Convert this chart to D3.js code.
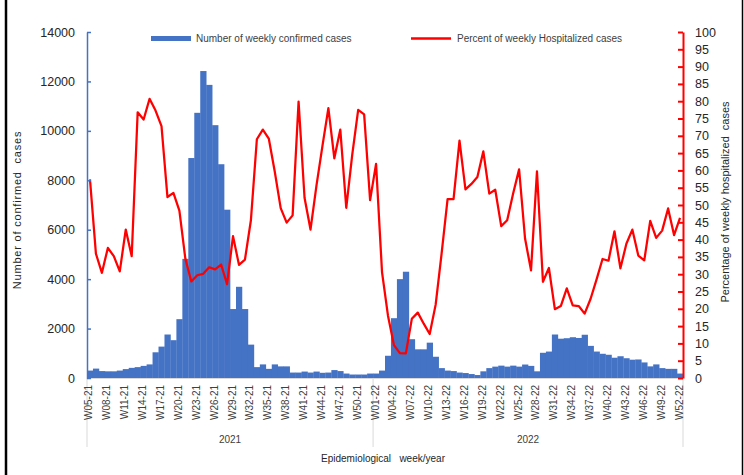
<!DOCTYPE html>
<html><head><meta charset="utf-8">
<script src="https://cdn.jsdelivr.net/npm/d3@7"></script>
<style>
body{margin:0;background:#fff}
text{font-family:"Liberation Sans",Arial,sans-serif}
</style>
</head><body>
<svg id="c" width="744" height="475"></svg>
<script>
const weeks = [
"W05-21","W06-21","W07-21","W08-21","W09-21","W10-21","W11-21","W12-21","W13-21","W14-21",
"W15-21","W16-21","W17-21","W18-21","W19-21","W20-21","W21-21","W22-21","W23-21","W24-21",
"W25-21","W26-21","W27-21","W28-21","W29-21","W30-21","W31-21","W32-21","W33-21","W34-21",
"W35-21","W36-21","W37-21","W38-21","W39-21","W40-21","W41-21","W42-21","W43-21","W44-21",
"W45-21","W46-21","W47-21","W48-21","W49-21","W50-21","W51-21","W52-21",
"W01-22","W02-22","W03-22","W04-22","W05-22","W06-22","W07-22","W08-22","W09-22","W10-22",
"W11-22","W12-22","W13-22","W14-22","W15-22","W16-22","W17-22","W18-22","W19-22","W20-22",
"W21-22","W22-22","W23-22","W24-22","W25-22","W26-22","W27-22","W28-22","W29-22","W30-22",
"W31-22","W32-22","W33-22","W34-22","W35-22","W36-22","W37-22","W38-22","W39-22","W40-22",
"W41-22","W42-22","W43-22","W44-22","W45-22","W46-22","W47-22","W48-22","W49-22","W50-22",
"W51-22","W52-22"];

const cases = [
300,380,280,270,270,300,360,410,440,490,
550,1040,1270,1760,1530,2380,4820,8900,10730,12420,
11860,10230,8650,6810,2790,3690,2790,1350,440,550,
370,550,470,470,220,220,260,220,260,210,
220,320,280,180,140,140,140,180,
180,300,900,2420,4000,4300,1570,1160,1160,1430,
860,400,300,280,220,200,160,120,270,400,
460,500,460,500,460,545,490,270,1020,1070,
1760,1590,1610,1650,1620,1750,1300,1070,980,940,
820,880,800,740,750,630,470,550,400,370,
370,180];

const hospPct = [
57.4,35.9,30.4,37.6,35.2,30.8,42.9,35.2,76.8,74.7,
80.7,77.3,72.8,52.3,53.5,48.4,34.5,27.9,29.7,30.1,
32.0,31.4,32.8,27.1,41.0,32.7,34.2,45.6,69.0,71.8,
69.2,59.7,49.1,44.9,47.0,79.9,52.1,42.9,55.6,67.0,
78.0,63.5,71.8,49.2,64.5,77.5,76.2,51.4,
61.9,30.6,18.0,9.5,7.2,7.1,17.1,18.9,15.7,12.7,
21.2,36.0,51.7,51.7,68.6,54.5,56.1,58.1,65.5,53.3,
54.4,43.9,45.6,53.3,60.3,40.3,31.1,59.7,27.8,31.8,
19.9,20.8,25.9,21.0,20.8,18.6,22.9,28.5,34.4,33.9,
42.4,31.7,38.8,42.9,35.4,34.0,45.4,40.5,42.6,49.0,
41.3,46.3];

const tickWeeks = ["W05-21","W08-21","W11-21","W14-21","W17-21","W20-21","W23-21","W26-21",
"W29-21","W32-21","W35-21","W38-21","W41-21","W44-21","W47-21","W50-21",
"W01-22","W04-22","W07-22","W10-22","W13-22","W16-22","W19-22","W22-22","W25-22",
"W28-22","W31-22","W34-22","W37-22","W40-22","W43-22","W46-22","W49-22","W52-22"];

const leftTicks = [0,2000,4000,6000,8000,10000,12000,14000];
const rightTicks = [0,5,10,15,20,25,30,35,40,45,50,55,60,65,70,75,80,85,90,95,100];
const years = ["2021","2022"];
const yearStart = ["W05-21","W01-22"];
const yearEnd = ["W52-21","W52-22"];

const svg = d3.select("#c");
const L = 87, R = 683, T = 32, B = 378;
const blue = "#4472C4", red = "#FF0000";

const x = d3.scaleBand().domain(weeks).range([L, R]).padding(0);
const yL = d3.scaleLinear().domain([0, 14000]).range([B, T]);
const yR = d3.scaleLinear().domain([0, 100]).range([B, T]);

// frame lines
svg.append("line").attr("x1",6).attr("x2",6).attr("y1",0).attr("y2",475).attr("stroke","#000").attr("stroke-width",2.5);
svg.append("line").attr("x1",742.5).attr("x2",742.5).attr("y1",0).attr("y2",475).attr("stroke","#000").attr("stroke-width",1.5);

// bars
svg.append("g").selectAll("rect").data(weeks).join("rect")
  .attr("x", d => x(d))
  .attr("width", x.bandwidth() + 0.3)
  .attr("y", (d,i) => yL(cases[i]))
  .attr("height", (d,i) => B - yL(cases[i]))
  .attr("fill", blue);

// base line and group separators
svg.append("line").attr("x1",L).attr("x2",R).attr("y1",B+0.5).attr("y2",B+0.5).attr("stroke","#D9D9D9").attr("stroke-width",1);
const seps = [x(yearStart[0]), x(yearStart[1]), x(yearEnd[1]) + x.bandwidth()];
svg.append("g").selectAll("line").data(seps).join("line")
  .attr("x1", d => d).attr("x2", d => d).attr("y1", B).attr("y2", 447)
  .attr("stroke","#D9D9D9").attr("stroke-width",1);

// line
const line = d3.line().x((d,i) => x(weeks[i]) + x.bandwidth()/2).y(d => yR(d));
svg.append("path").datum(hospPct).attr("d", line).attr("fill","none")
  .attr("stroke", red).attr("stroke-width", 2.25).attr("stroke-linejoin","round");

// left axis
const gL = svg.append("g").attr("transform", `translate(${L},0)`)
  .call(d3.axisLeft(yL).tickValues(leftTicks).tickSize(-4).tickSizeOuter(0).tickPadding(12).tickFormat(d3.format("d")));
gL.select(".domain").attr("stroke", blue).attr("stroke-width", 1.5);
gL.selectAll(".tick line").attr("stroke", blue).attr("stroke-width", 1.5);
gL.selectAll(".tick text").attr("font-size", 12.5).attr("fill", "#262626").attr("font-family","Liberation Sans, Arial");

// right axis
const gR = svg.append("g").attr("transform", `translate(${R},0)`)
  .call(d3.axisRight(yR).tickValues(rightTicks).tickSize(-5).tickSizeOuter(0).tickPadding(12));
gR.select(".domain").attr("stroke", red).attr("stroke-width", 2);
gR.selectAll(".tick line").attr("stroke", red).attr("stroke-width", 2);
gR.selectAll(".tick text").attr("font-size", 12.5).attr("fill", "#262626").attr("font-family","Liberation Sans, Arial");

// x tick labels
svg.append("g").selectAll("text").data(tickWeeks).join("text")
  .attr("transform", d => `translate(${x(d) + x.bandwidth()/2 - 1},385) rotate(-90)`)
  .attr("text-anchor","end").attr("dy","0.35em")
  .attr("font-size", 10).attr("fill","#404040")
  .text(d => d);

// year labels
svg.append("g").selectAll("text").data(years).join("text")
  .attr("x", (d,i) => (x(yearStart[i]) + x(yearEnd[i]) + x.bandwidth())/2)
  .attr("y", 443).attr("text-anchor","middle")
  .attr("font-size", 10).attr("fill","#404040").text(d => d);

// axis titles
svg.append("text").attr("x", 383).attr("y", 462).attr("text-anchor","middle")
  .attr("font-size", 10).attr("fill","#262626").style("white-space","pre")
  .text("Epidemiological   week/year");
svg.append("text").attr("transform","translate(21,210) rotate(-90)").attr("text-anchor","middle")
  .attr("font-size", 11).attr("letter-spacing", 0.8).attr("fill","#262626").style("white-space","pre")
  .text("Number of confirmed  cases");
svg.append("text").attr("transform","translate(729,202) rotate(-90)").attr("text-anchor","middle")
  .attr("font-size", 11).attr("fill","#262626").style("white-space","pre")
  .text("Percentage of weekly hospitalized  cases");

// legend
svg.append("rect").attr("x",151).attr("y",36).attr("width",40).attr("height",5).attr("fill",blue);
svg.append("text").attr("x",196).attr("y",42).attr("font-size",10).attr("fill","#404040").text("Number of weekly confirmed cases");
svg.append("line").attr("x1",411).attr("x2",451).attr("y1",38.5).attr("y2",38.5).attr("stroke",red).attr("stroke-width",2.5);
svg.append("text").attr("x",457).attr("y",42).attr("font-size",10).attr("fill","#404040").text("Percent of weekly Hospitalized cases");
</script>
</body></html>
